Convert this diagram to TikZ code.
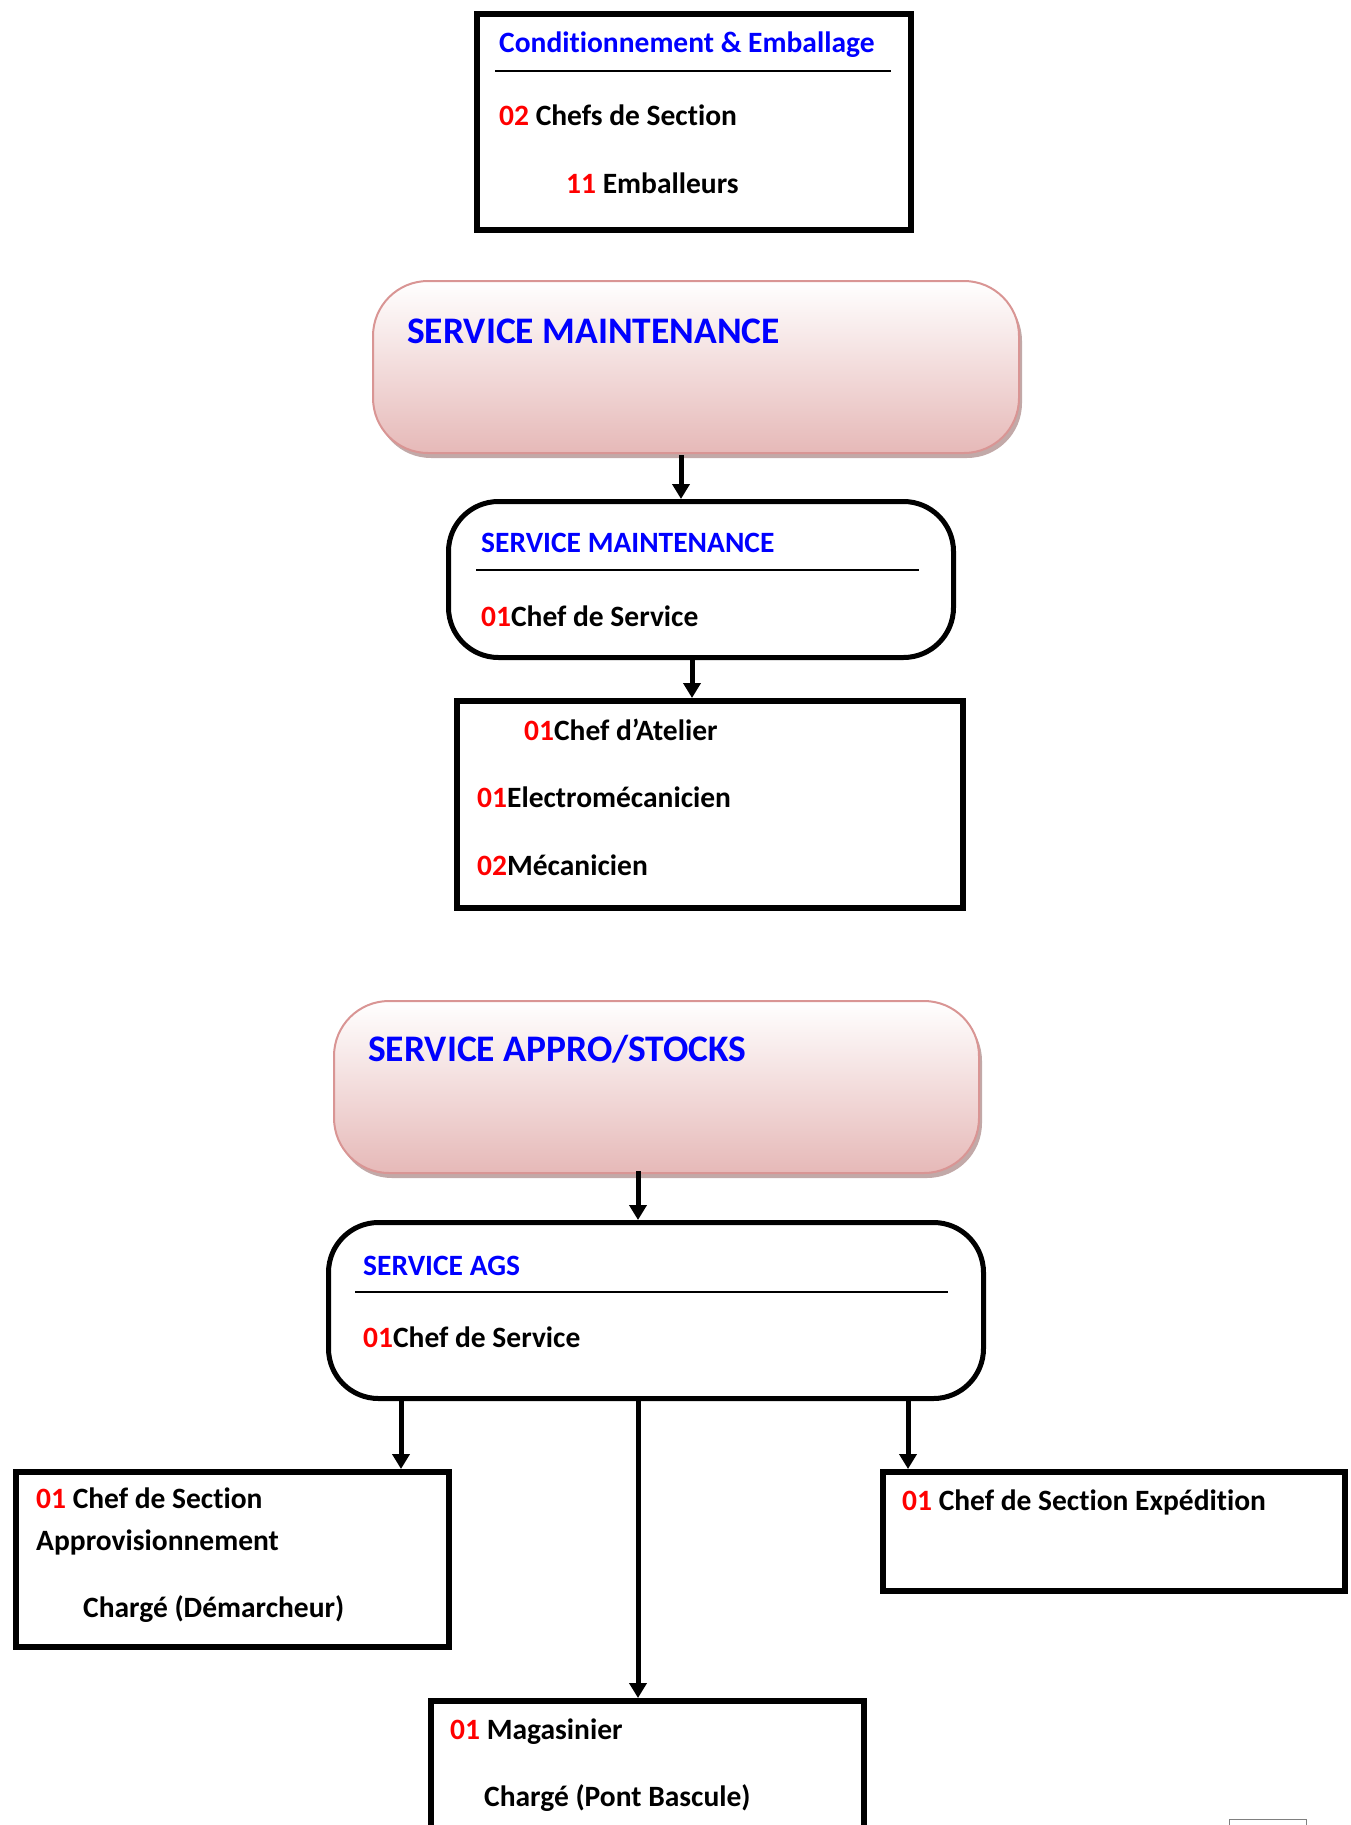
\documentclass[tikz,border=0pt]{standalone}
\usepackage{fontspec}
\setmainfont{Carlito}[Ligatures=NoCommon]
\usetikzlibrary{arrows.meta, shadows, calc, positioning}

\definecolor{pinkline}{HTML}{D99594}
\definecolor{pinkfill}{HTML}{E6B9B8}
\definecolor{pinkshadow}{HTML}{B39392}
\newcommand{\nbr}[1]{\textcolor{red}{#1}}

\tikzset{
  txt/.style={inner sep=0pt, anchor=base west, font=\bfseries\fontsize{29.5}{35}\selectfont},
  head/.style={txt, text=blue},
  bighead/.style={txt, text=blue, font=\bfseries\fontsize{37.5}{44}\selectfont},
  sqbox/.style={draw, line width=6pt, anchor=north west, inner sep=0pt},
  rndbox/.style={sqbox, line width=5pt, rounded corners=50pt},
  service/.style={draw=pinkline, line width=2pt, rounded corners=55pt, anchor=north west,
    inner sep=0pt, top color=white, bottom color=pinkfill,
    drop shadow={shadow xshift=3pt, shadow yshift=-5pt, fill=pinkshadow, opacity=0.8}},
  arr/.style={line width=5pt, -{Triangle[width=17pt,length=15pt]}},
  rule/.style={line width=1.6pt}
}

\begin{document}
\begin{tikzpicture}[x=1pt, y=-1pt]
  \useasboundingbox (0,0) rectangle (1351,1825);

  % Conditionnement & Emballage
  \node[sqbox, minimum width=434pt, minimum height=216pt] (cond) at (474,11) {};
  \node[head] (condT) at (499,53) {Conditionnement \& Emballage};
  \draw[rule] (495,71) -- (891,71);
  \node[txt] (condA) at (499,126) {\nbr{02} Chefs de Section};
  \node[txt] (condB) at (566,193) {\nbr{11} Emballeurs};

  % Service maintenance
  \node[service, minimum width=646pt, minimum height=172pt] (mainthead) at (372,280) {};
  \node[bighead] (mainth) at (407,343) {SERVICE MAINTENANCE};

  \node[rndbox, minimum width=505pt, minimum height=156pt] (maint) at (446,499) {};
  \node[head] (maintT) at (481,552) {SERVICE MAINTENANCE};
  \draw[rule] (476,570) -- (919,570);
  \node[txt] (maintA) at (481,626) {\nbr{01}Chef de Service};

  \node[sqbox, minimum width=506pt, minimum height=207pt] (atelier) at (454,698) {};
  \node[txt] (atelA) at (524,740) {\nbr{01}Chef d’Atelier};
  \node[txt] (atelB) at (477,807) {\nbr{01}Electromécanicien};
  \node[txt] (atelC) at (477,875) {\nbr{02}Mécanicien};

  \coordinate (a1) at (681,455);
  \coordinate (a2) at (692,0);
  \draw[arr] (a1) -- (a1 |- maint.north);
  \draw[arr] (maint.south -| a2) -- (atelier.north -| a2);

  % Service appro/stocks
  \node[service, minimum width=645pt, minimum height=172pt] (approhead) at (333,1000) {};
  \node[bighead] (approh) at (368,1061) {SERVICE APPRO/STOCKS};

  \node[rndbox, minimum width=655pt, minimum height=176pt] (ags) at (326,1220) {};
  \node[head] (agsT) at (363,1275) {SERVICE AGS};
  \draw[rule] (355,1292) -- (948,1292);
  \node[txt] (agsA) at (363,1347) {\nbr{01}Chef de Service};

  \node[sqbox, minimum width=433pt, minimum height=175pt] (appro) at (13,1469) {};
  \node[txt] (approA) at (36,1508) {\nbr{01} Chef de Section};
  \node[txt] (approB) at (36,1550) {Approvisionnement};
  \node[txt] (approC) at (83,1617) {Chargé (Démarcheur)};

  \node[sqbox, minimum width=462pt, minimum height=119pt] (expe) at (880,1469) {};
  \node[txt] (expeA) at (902,1510) {\nbr{01} Chef de Section Expédition};

  \node[sqbox, minimum width=433pt, minimum height=200pt] (magas) at (428,1698) {};
  \node[txt] (magasA) at (450,1739) {\nbr{01} Magasinier};
  \node[txt] (magasB) at (484,1806) {Chargé (Pont Bascule)};

  \coordinate (b1) at (638,1171);
  \coordinate (c1) at (401,0);
  \coordinate (c2) at (638,0);
  \coordinate (c3) at (908,0);
  \draw[arr] (b1) -- (b1 |- ags.north);
  \draw[arr] (ags.south -| c1) -- (appro.north -| c1);
  \draw[arr] (ags.south -| c2) -- (magas.north -| c2);
  \draw[arr] (ags.south -| c3) -- (expe.north -| c3);

  % page mark
  \draw[gray, line width=1pt] (1229,1840) -- (1229,1819) -- (1306,1819) -- (1306,1840);
\end{tikzpicture}
\end{document}
